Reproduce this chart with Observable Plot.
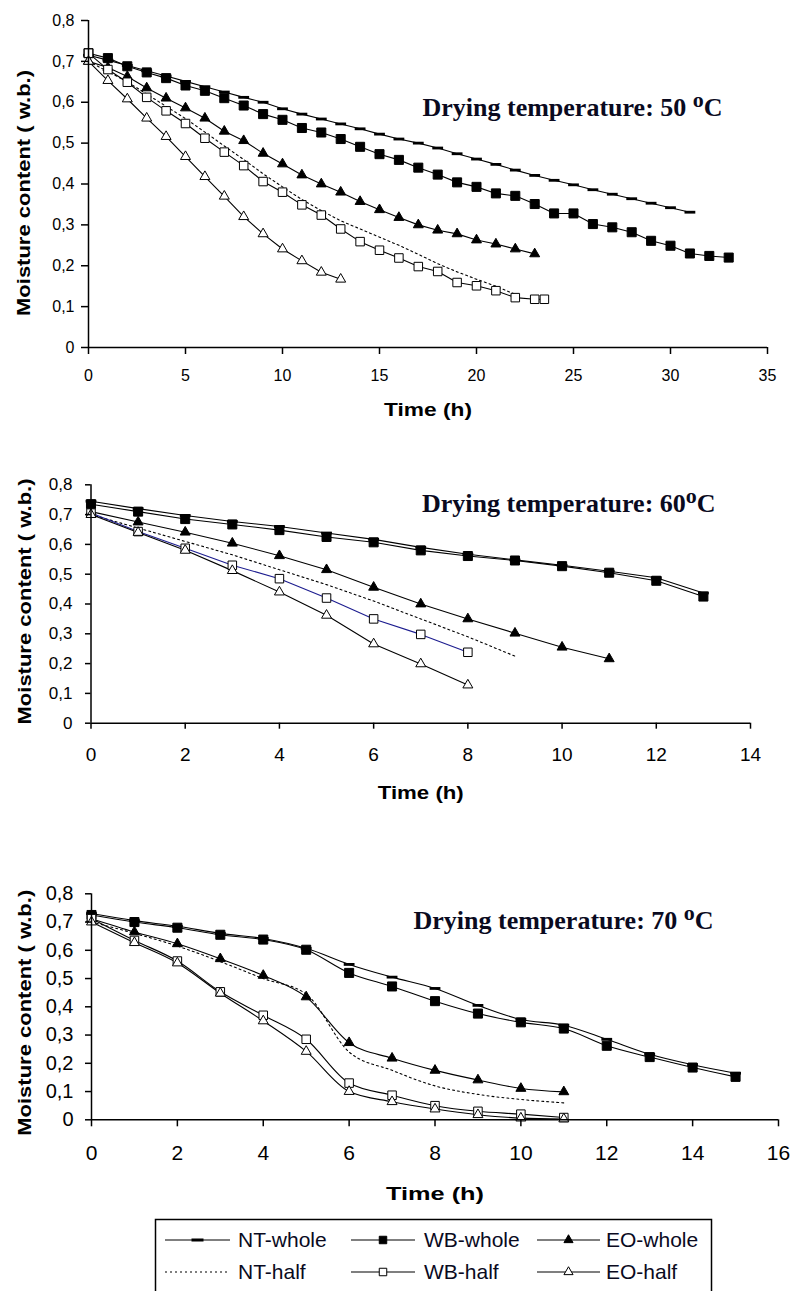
<!DOCTYPE html>
<html><head><meta charset="utf-8">
<script src="https://cdn.jsdelivr.net/npm/d3@7"></script>
<script src="https://cdn.jsdelivr.net/npm/@observablehq/plot@0.6"></script>
<style>
html,body{margin:0;padding:0;background:#fff;overflow:hidden;}
#page{position:relative;width:790px;height:1291px;overflow:hidden;background:#fff;}
#page svg{position:absolute;left:0;}
</style></head><body><div id="page"></div>
<script>
// ---------------- DATA ----------------
const seriesNames = ["NT-whole","WB-whole","EO-whole","NT-half","WB-half","EO-half"];
const yTicks = [0,0.1,0.2,0.3,0.4,0.5,0.6,0.7,0.8];
const xTicks50 = [0,5,10,15,20,25,30,35];
const xTicks60 = [0,2,4,6,8,10,12,14];
const xTicks70 = [0,2,4,6,8,10,12,14,16];
const titleHeads = ["Drying temperature: 50 ","Drying temperature: 60","Drying temperature: 70 "];
const titleDeg = "o";
const titleUnit = "C";
const yLabel = "Moisture content ( w.b.)";
const xLabel = "Time (h)";

// 50 °C
const t50NTwhole = [0,1,2,3,4,5,6,7,8,9,10,11,12,13,14,15,16,17,18,19,20,21,22,23,24,25,26,27,28,29,30,31];
const m50NTwhole = [0.715,0.703,0.690,0.677,0.664,0.651,0.638,0.625,0.612,0.600,0.584,0.571,0.559,0.547,0.535,0.522,0.510,0.500,0.488,0.474,0.461,0.448,0.434,0.421,0.409,0.398,0.386,0.375,0.364,0.353,0.342,0.331];
const t50WBwhole = [0,1,2,3,4,5,6,7,8,9,10,11,12,13,14,15,16,17,18,19,20,21,22,23,24,25,26,27,28,29,30,31,32,33];
const m50WBwhole = [0.720,0.708,0.688,0.673,0.659,0.641,0.628,0.610,0.592,0.571,0.557,0.537,0.526,0.510,0.491,0.473,0.459,0.440,0.423,0.404,0.393,0.377,0.371,0.351,0.328,0.328,0.302,0.294,0.282,0.261,0.249,0.230,0.224,0.220];
const t50EOwhole = [0,1,2,3,4,5,6,7,8,9,10,11,12,13,14,15,16,17,18,19,20,21,22,23];
const m50EOwhole = [0.700,0.685,0.663,0.635,0.610,0.586,0.561,0.529,0.506,0.475,0.449,0.422,0.400,0.380,0.357,0.337,0.318,0.300,0.287,0.278,0.263,0.253,0.241,0.229];
const t50NThalf = [0,1,2,3,4,5,6,7,8,9,10,11,12,13,14,15,16,17,18,19,20,21,22];
const m50NThalf = [0.700,0.675,0.650,0.620,0.590,0.560,0.527,0.493,0.460,0.425,0.393,0.362,0.335,0.310,0.290,0.270,0.250,0.228,0.205,0.185,0.167,0.150,0.130];
const t50WBhalf = [0,1,2,3,4,5,6,7,8,9,10,11,12,13,14,15,16,17,18,19,20,21,22,23,23.5];
const m50WBhalf = [0.720,0.680,0.649,0.612,0.579,0.548,0.512,0.478,0.445,0.406,0.380,0.349,0.324,0.290,0.259,0.238,0.219,0.198,0.186,0.159,0.151,0.139,0.122,0.118,0.118];
const t50EOhalf = [0,1,2,3,4,5,6,7,8,9,10,11,12,13];
const m50EOhalf = [0.700,0.653,0.608,0.561,0.516,0.467,0.418,0.370,0.320,0.278,0.241,0.212,0.184,0.167];

// 60 °C
const t60NTwhole = [0,1,2,3,4,5,6,7,8,9,10,11,12,13];
const m60NTwhole = [0.745,0.720,0.697,0.677,0.660,0.638,0.617,0.590,0.567,0.548,0.530,0.510,0.488,0.437];
const t60WBwhole = [0,1,2,3,4,5,6,7,8,9,10,11,12,13];
const m60WBwhole = [0.735,0.710,0.685,0.667,0.648,0.625,0.607,0.580,0.561,0.546,0.527,0.505,0.478,0.425];
const t60EOwhole = [0,1,2,3,4,5,6,7,8,9,10,11];
const m60EOwhole = [0.710,0.675,0.641,0.604,0.562,0.515,0.456,0.400,0.350,0.302,0.255,0.216];
const t60NThalf = [0,1,2,3,4,5,6,7,8,9];
const m60NThalf = [0.700,0.655,0.610,0.565,0.515,0.465,0.410,0.350,0.290,0.225];
const t60WBhalf = [0,1,2,3,4,5,6,7,8];
const m60WBhalf = [0.705,0.643,0.587,0.530,0.485,0.420,0.350,0.298,0.238];
const t60EOhalf = [0,1,2,3,4,5,6,7,8];
const m60EOhalf = [0.700,0.640,0.580,0.512,0.440,0.362,0.266,0.199,0.128];

// 70 °C
const t70NTwhole = [0,1,2,3,4,5,6,7,8,9,10,11,12,13,14,15];
const m70NTwhole = [0.730,0.705,0.685,0.660,0.642,0.607,0.550,0.505,0.465,0.405,0.355,0.335,0.285,0.232,0.195,0.165];
const t70WBwhole = [0,1,2,3,4,5,6,7,8,9,10,11,12,13,14,15];
const m70WBwhole = [0.725,0.700,0.680,0.655,0.638,0.602,0.520,0.472,0.420,0.376,0.345,0.323,0.262,0.222,0.185,0.152];
const t70EOwhole = [0,1,2,3,4,5,6,7,8,9,10,11];
const m70EOwhole = [0.712,0.665,0.623,0.570,0.511,0.435,0.273,0.218,0.175,0.141,0.111,0.099];
const t70NThalf = [0,1,2,3,4,5,6,7,8,9,10,11];
const m70NThalf = [0.700,0.660,0.615,0.560,0.500,0.445,0.240,0.175,0.120,0.090,0.072,0.060];
const t70WBhalf = [0,1,2,3,4,5,6,7,8,9,10,11];
const m70WBhalf = [0.712,0.635,0.562,0.453,0.370,0.285,0.130,0.087,0.050,0.030,0.020,0.008];
const t70EOhalf = [0,1,2,3,4,5,6,7,8,9,10,11];
const m70EOhalf = [0.700,0.627,0.555,0.448,0.350,0.242,0.100,0.064,0.038,0.018,0.006,0.003];

// ---------------- STYLE ----------------
const dashSymbol = {draw(ctx, size) {
  const r = Math.sqrt(size / Math.PI);
  ctx.moveTo(-r * 1.2, -1.4); ctx.lineTo(r * 1.2, -1.4);
  ctx.lineTo(r * 1.2, 1.4); ctx.lineTo(-r * 1.2, 1.4); ctx.closePath();
}};
const markerStyle = {
  "NT-whole": {symbol: dashSymbol, fill: "#000", r: 4.5},
  "WB-whole": {symbol: "square", fill: "#000", r: 5.1},
  "EO-whole": {symbol: "triangle", fill: "#000", r: 3.7},
  "NT-half": null,
  "WB-half": {symbol: "square", fill: "#fff", r: 4.8},
  "EO-half": {symbol: "triangle", fill: "#fff", r: 3.7}
};
const fmtY = d => d === 0 ? "0" : d3.format(".1f")(d).replace(".", ",");
const sansFont = "Arial, 'Liberation Sans', sans-serif";
const serifFont = "'Times New Roman', 'Liberation Serif', serif";

function makeChart(cfg) {
  const marks = [];
  cfg.series.forEach(s => {
    const rows = s.t.map((t, i) => ({t, v: s.v[i]}));
    s.rows = rows;
    marks.push(Plot.line(rows, {
      x: "t", y: "v", stroke: s.color || "#000", strokeWidth: 1.1,
      strokeDasharray: s.name === "NT-half" ? "2,3" : undefined,
      curve: cfg.curve
    }));
  });
  cfg.series.forEach(s => {
    const st = markerStyle[s.name];
    if (!st) return;
    marks.push(Plot.dot(s.rows, {
      x: "t", y: "v", symbol: st.symbol, r: st.r, fill: st.fill,
      stroke: "#000", strokeWidth: st.symbol === dashSymbol ? 0 : 1
    }));
  });
  marks.push(Plot.ruleX([0], {stroke: "#000", strokeWidth: 1.5}));
  marks.push(Plot.ruleY([0], {stroke: "#000", strokeWidth: 1.5}));
  marks.push(Plot.axisX({ticks: cfg.xTicks, tickFormat: d => String(d), tickSize: cfg.xTickSize,
    tickPadding: cfg.xTickPad, fontSize: cfg.xFont, label: null, strokeWidth: 1.5}));
  marks.push(Plot.axisY({ticks: yTicks, tickFormat: fmtY, tickSize: cfg.yTickSize,
    tickPadding: cfg.yTickPad, fontSize: cfg.yFont, label: null, strokeWidth: 1.5}));
  const fullTitle = cfg.titleHead + titleDeg + titleUnit;
  marks.push(Plot.text([fullTitle], {text: d => d, frameAnchor: "top-left", textAnchor: "start",
    lineAnchor: "middle", dx: cfg.titleDx, dy: cfg.titleDy, fontFamily: serifFont,
    fontWeight: "bold", fontSize: 26, fill: "#0a0a1e"}));
  marks.push(Plot.text([yLabel], {text: d => d, frameAnchor: "left", rotate: -90,
    textAnchor: "middle", lineAnchor: "middle", dx: cfg.yLabDx, dy: cfg.yLabDy,
    fontWeight: "bold", fontSize: 19}));
  marks.push(Plot.text([xLabel], {text: d => d, frameAnchor: "bottom", textAnchor: "middle",
    lineAnchor: "middle", dy: cfg.xLabDy, fontWeight: "bold", fontSize: 18}));

  const svg = Plot.plot({
    width: 790, height: cfg.height,
    marginTop: cfg.mt, marginLeft: cfg.ml, marginRight: cfg.mr, marginBottom: cfg.mb,
    x: {domain: cfg.xDomain},
    y: {domain: [0, 0.8]},
    style: {fontFamily: sansFont, color: "#000", background: "transparent", overflow: "visible"},
    marks
  });
  svg.style.top = cfg.top + "px";
  d3.select(svg).selectAll("text").each(function() {
    const el = d3.select(this);
    if (this.textContent === yLabel) el.attr("textLength", 246).attr("lengthAdjust", "spacingAndGlyphs");
    if (this.textContent === xLabel) el.attr("textLength", cfg.xLabLen).attr("lengthAdjust", "spacingAndGlyphs");
    if (this.textContent === fullTitle) {
      el.text(null);
      el.append("tspan").text(cfg.titleHead);
      el.append("tspan").attr("font-size", 22).attr("dy", -9).text(titleDeg);
      el.append("tspan").attr("dy", 9).text(titleUnit);
    }
  });
  document.getElementById("page").appendChild(svg);
}

makeChart({
  top: 0, height: 440, mt: 20, ml: 88, mr: 23, mb: 93,
  xDomain: [0, 35], xTicks: xTicks50, xTickSize: 7, xTickPad: 15, xFont: 16,
  yTickSize: 7, yTickPad: 7, yFont: 16,
  titleHead: titleHeads[0], titleDx: 334, titleDy: 87,
  yLabDx: -65, yLabDy: 9, xLabDy: 63, xLabLen: 88, curve: "linear",
  series: [
    {name: "NT-whole", t: t50NTwhole, v: m50NTwhole},
    {name: "WB-whole", t: t50WBwhole, v: m50WBwhole},
    {name: "EO-whole", t: t50EOwhole, v: m50EOwhole},
    {name: "NT-half", t: t50NThalf, v: m50NThalf},
    {name: "WB-half", t: t50WBhalf, v: m50WBhalf},
    {name: "EO-half", t: t50EOhalf, v: m50EOhalf}
  ]
});
makeChart({
  top: 440, height: 410, mt: 44.3, ml: 90.5, mr: 40, mb: 127.3,
  xDomain: [0, 14], xTicks: xTicks60, xTickSize: 6, xTickPad: 18, xFont: 19,
  yTickSize: 5.5, yTickPad: 13, yFont: 17,
  titleHead: titleHeads[1], titleDx: 331, titleDy: 18.4,
  yLabDx: -66.5, yLabDy: -2.5, xLabDy: 70, xLabLen: 86, curve: "linear",
  series: [
    {name: "NT-whole", t: t60NTwhole, v: m60NTwhole},
    {name: "WB-whole", t: t60WBwhole, v: m60WBwhole},
    {name: "EO-whole", t: t60EOwhole, v: m60EOwhole},
    {name: "NT-half", t: t60NThalf, v: m60NThalf},
    {name: "WB-half", t: t60WBhalf, v: m60WBhalf, color: "#1c1c8f"},
    {name: "EO-half", t: t60EOhalf, v: m60EOhalf}
  ]
});
makeChart({
  top: 850, height: 365, mt: 43.3, ml: 91, mr: 12, mb: 95.7,
  xDomain: [0, 16], xTicks: xTicks70, xTickSize: 7, xTickPad: 18.5, xFont: 21,
  yTickSize: 6, yTickPad: 12, yFont: 20,
  titleHead: titleHeads[2], titleDx: 322, titleDy: 26.7,
  yLabDx: -67, yLabDy: 6, xLabDy: 74, xLabLen: 98, curve: "monotone-x",
  series: [
    {name: "NT-whole", t: t70NTwhole, v: m70NTwhole},
    {name: "WB-whole", t: t70WBwhole, v: m70WBwhole},
    {name: "EO-whole", t: t70EOwhole, v: m70EOwhole},
    {name: "NT-half", t: t70NThalf, v: m70NThalf},
    {name: "WB-half", t: t70WBhalf, v: m70WBhalf},
    {name: "EO-half", t: t70EOhalf, v: m70EOhalf}
  ]
});

// ---------------- LEGEND ----------------
const lg = d3.select("#page").append("svg").attr("width", 790).attr("height", 81)
  .style("top", "1210px").style("font-family", sansFont);
lg.append("rect").attr("x", 155.5).attr("y", 9.5).attr("width", 556).attr("height", 100)
  .attr("fill", "none").attr("stroke", "#000").attr("stroke-width", 1.5);
const colX = [{x0: 165, x1: 230, tx: 238}, {x0: 351, x1: 415, tx: 424}, {x0: 537, x1: 600, tx: 606}];
const rowY = [{ly: 30, ty: 36.5}, {ly: 62, ty: 68.5}];
seriesNames.forEach((name, i) => {
  const c = colX[i % 3], r = rowY[Math.floor(i / 3)];
  const cx = (c.x0 + c.x1) / 2;
  lg.append("line").attr("x1", c.x0).attr("x2", c.x1).attr("y1", r.ly).attr("y2", r.ly)
    .attr("stroke", "#000").attr("stroke-width", 1.1)
    .attr("stroke-dasharray", name === "NT-half" ? "2,3" : null);
  const st = markerStyle[name];
  if (st) {
    if (st.symbol === dashSymbol) {
      lg.append("rect").attr("x", cx - 6).attr("y", r.ly - 1.5).attr("width", 12).attr("height", 3).attr("fill", "#000");
    } else {
      const type = st.symbol === "square" ? d3.symbolSquare : d3.symbolTriangle;
      const size = st.symbol === "square" ? 56 : 36;
      lg.append("path").attr("d", d3.symbol(type, size)()).attr("transform", `translate(${cx},${r.ly})`)
        .attr("fill", st.fill).attr("stroke", "#000").attr("stroke-width", 1);
    }
  }
  lg.append("text").attr("x", c.tx).attr("y", r.ty).attr("font-size", 21).attr("fill", "#0a0a1e").text(name);
});
</script></body></html>
